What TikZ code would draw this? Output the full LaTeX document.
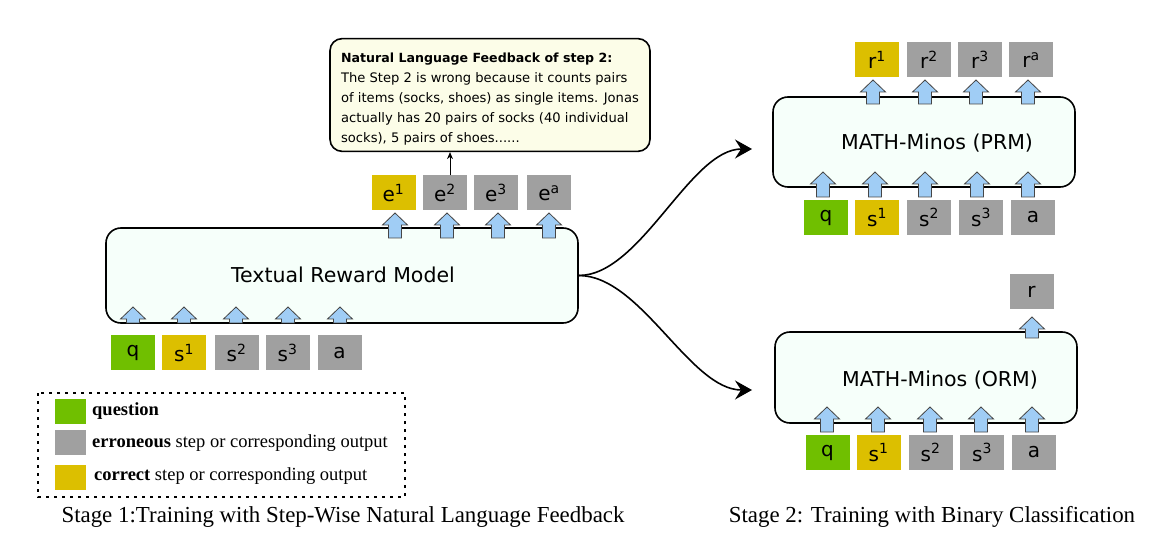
\documentclass[tikz,border=0pt]{standalone}
\usepackage{fontspec}
\setmainfont{Liberation Serif}
\newfontfamily\cfont{DejaVu Sans}
\usetikzlibrary{arrows.meta}
\definecolor{qgreen}{RGB}{112,191,0}
\definecolor{okyellow}{RGB}{220,191,0}
\definecolor{errgray}{RGB}{160,160,160}
\definecolor{arrblue}{RGB}{160,205,245}
\definecolor{arrline}{RGB}{70,70,70}
\definecolor{mint}{RGB}{246,255,250}
\definecolor{fbfill}{RGB}{252,253,232}
\newcommand\blockup[3]{%
  \draw[barrow] (#1-6.5,#2) -- (#1-6.5,#2-#3+12) -- (#1-12.5,#2-#3+12) -- (#1,#2-#3)
    -- (#1+12.5,#2-#3+12) -- (#1+6.5,#2-#3+12) -- (#1+6.5,#2) -- cycle;}
\begin{document}
\begin{tikzpicture}[x=1pt,y=-1pt,
  tok/.style={minimum width=44, minimum height=35, inner sep=0, font=\cfont\fontsize{20}{22}\selectfont},
  gq/.style={tok, fill=qgreen},
  gy/.style={tok, fill=okyellow},
  gg/.style={tok, fill=errgray},
  model/.style={draw=black, line width=1.6pt, rounded corners=15pt, fill=mint},
  mlabel/.style={font=\cfont\fontsize{20.5}{22}\selectfont},
  barrow/.style={draw=arrline, line width=0.8pt, fill=arrblue, line join=miter},
  fbbox/.style={draw=black, line width=1.6pt, rounded corners=12pt, fill=fbfill,
    minimum width=320, minimum height=110, align=left, inner sep=6,
    font=\cfont\fontsize{13.1}{20}\selectfont},
  curve/.style={line width=1.6pt, -{Stealth[length=17pt,width=19pt,inset=6pt]}},
  leg/.style={minimum width=31, minimum height=25, inner sep=0},
  legtext/.style={anchor=west, font=\fontsize{18.5}{20}\selectfont, inner sep=0},
  caption/.style={font=\fontsize{22.9}{24}\selectfont}
]
\useasboundingbox (0,0) rectangle (1149,537);

% ---------- Stage 1 ----------
\node[fbbox] (fb) at (490,95) {\rule{0pt}{18pt}{\bfseries\fontsize{12.6}{20}\selectfont Natural Language Feedback of step 2:}\\The Step 2 is wrong because it counts pairs\\of items (socks, shoes) as single items. Jonas\\actually has 20 pairs of socks (40 individual\\socks), 5 pairs of shoes......};

\node[model, minimum width=472, minimum height=95] (trm) at (342,275.5) {};
\node[mlabel] (trmlbl) at (343,275) {Textual Reward Model};

\node[gy] (e1) at (393.5,193) {e\textsuperscript{1}};
\node[gg] (e2) at (445,193) {e\textsuperscript{2}};
\node[gg] (e3) at (496,193) {e\textsuperscript{3}};
\node[gg] (ea) at (549,193) {e\textsuperscript{a}};

\draw[line width=0.8pt, -{Stealth[length=7pt,width=6pt]}] ([xshift=5pt]e2.north) -- ([xshift=5pt]e2.north |- fb.south);

\node[gq] (q1) at (133,353) {q};
\node[gy] (s11) at (184,353) {s\textsuperscript{1}};
\node[gg] (s21) at (236.5,353) {s\textsuperscript{2}};
\node[gg] (s31) at (287.5,353) {s\textsuperscript{3}};
\node[gg] (a1) at (339.5,353) {a};

\blockup{395}{238}{25}\blockup{447}{238}{25}\blockup{498}{238}{25}\blockup{549}{238}{25}
\blockup{133}{323}{16}\blockup{184}{323}{16}\blockup{236}{323}{16}\blockup{288}{323}{16}\blockup{340}{323}{16}

% legend
\draw[line width=1.5pt, dash pattern=on 3pt off 5pt] (38,393) rectangle (405,497);
\node[leg, fill=qgreen] (lq) at (70.5,411) {};
\node[leg, fill=errgray] (lg) at (70.5,442.5) {};
\node[leg, fill=okyellow] (ly) at (70.5,477.5) {};
\node[legtext] (tq) at (92,411) {\textbf{question}};
\node[legtext] (tg) at (92,443) {\textbf{erroneous} step or corresponding output};
\node[legtext] (ty) at (94,476) {\textbf{correct} step or corresponding output};

\node[caption] (cap1) at (343,517) {Stage 1:Training with Step-Wise Natural Language Feedback};

% ---------- curves ----------
\coordinate (tprm) at (752,149);
\coordinate (torm) at (752,390);
\draw[curve] (trm.east) .. controls +(62,0) and +(-62,0) .. (tprm);
\draw[curve] (trm.east) .. controls +(62,0) and +(-62,0) .. (torm);

% ---------- Stage 2: PRM ----------
\node[model, minimum width=302, minimum height=90] (prm) at (924,142) {};
\node[mlabel] (prmlbl) at (937,143) {MATH-Minos (PRM)};
\node[gy] (r1) at (877,60) {r\textsuperscript{1}};
\node[gg] (r2) at (929,60) {r\textsuperscript{2}};
\node[gg] (r3) at (980,60) {r\textsuperscript{3}};
\node[gg] (ra) at (1031,60) {r\textsuperscript{a}};
\node[gq] (q2) at (826,217.5) {q};
\node[gy] (s12) at (877,217.5) {s\textsuperscript{1}};
\node[gg] (s22) at (929,217.5) {s\textsuperscript{2}};
\node[gg] (s32) at (981,217.5) {s\textsuperscript{3}};
\node[gg] (a2) at (1033,217.5) {a};
\blockup{873}{104}{24}\blockup{925}{104}{24}\blockup{976}{104}{24}\blockup{1028}{104}{24}
\blockup{823}{197}{25}\blockup{875}{197}{25}\blockup{925}{197}{25}\blockup{977}{197}{25}\blockup{1028}{197}{25}

% ---------- Stage 2: ORM ----------
\node[model, minimum width=302, minimum height=91] (orm) at (926,377.5) {};
\node[mlabel] (ormlbl) at (940,380) {MATH-Minos (ORM)};
\node[gg] (r) at (1031.5,291.5) {r};
\node[gq] (q3) at (827.5,452.5) {q};
\node[gy] (s13) at (878.5,452.5) {s\textsuperscript{1}};
\node[gg] (s23) at (930.5,452.5) {s\textsuperscript{2}};
\node[gg] (s33) at (982,452.5) {s\textsuperscript{3}};
\node[gg] (a3) at (1034,452.5) {a};
\blockup{1032}{338}{21}
\blockup{827}{432}{25}\blockup{878}{432}{25}\blockup{930}{432}{25}\blockup{981}{432}{25}\blockup{1032}{432}{25}

\node[caption] (cap2) at (932,517) {Stage 2: Training with Binary Classification};
\end{tikzpicture}
\end{document}
